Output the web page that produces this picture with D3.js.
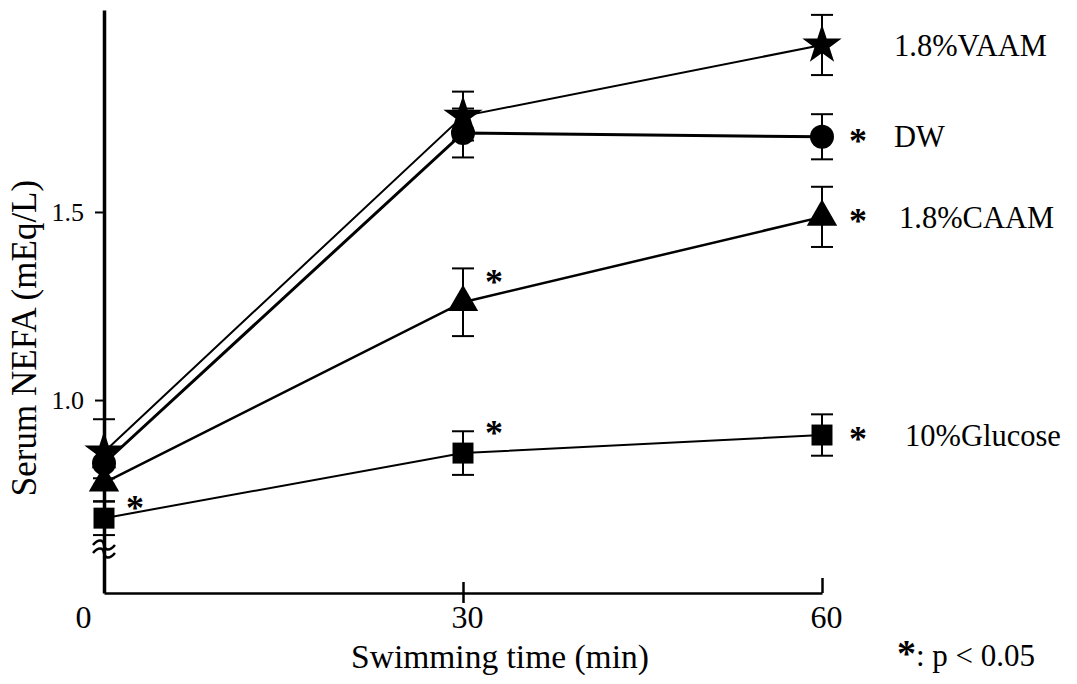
<!DOCTYPE html>
<html>
<head>
<meta charset="utf-8">
<script src="https://cdn.jsdelivr.net/npm/d3@7"></script>
<style>
  body { margin: 0; background: #fff; }
  svg { display: block; }
  svg text { font-family: "Liberation Serif", "Times New Roman", "DejaVu Serif", serif; fill: #000; }
  .axis path, .axis line { stroke: #000; }
</style>
</head>
<body>
<div id="chart"></div>
<script>
// data (serum NEFA, mEq/L)
const times = [0, 30, 60]
const seriesNames = ["1.8%VAAM", "DW", "1.8%CAAM", "10%Glucose"]
const vaamMean = [0.862, 1.755, 1.944]
const vaamErr = [0.087, 0.065, 0.08]
const dwMean = [0.832, 1.71, 1.70]
const dwErr = [0.04, 0.065, 0.06]
const caamMean = [0.78, 1.26, 1.487]
const caamErr = [0.05, 0.09, 0.08]
const glucoseMean = [0.686, 0.859, 0.907]
const glucoseErr = [0.045, 0.058, 0.055]
const vaamSig = [false, false, false]
const dwSig = [false, false, true]
const caamSig = [false, true, true]
const glucoseSig = [true, true, true]
const xTicks = [0, 30, 60]
const yTicks = [1.0, 1.5]

var width = 1077, height = 684
var margin = {left: 104, right: 255, top: 10, bottom: 91}
var serif = '"Liberation Serif", "Times New Roman", serif'

var series = [
    {name: seriesNames[0], mean: vaamMean, err: vaamErr, sig: vaamSig, symbol: d3.symbolStar, size: 480, lw: 2},
    {name: seriesNames[1], mean: dwMean, err: dwErr, sig: dwSig, symbol: d3.symbolCircle, size: 452, lw: 3},
    {name: seriesNames[2], mean: caamMean, err: caamErr, sig: caamSig, symbol: d3.symbolTriangle, size: 400, lw: 2.5},
    {name: seriesNames[3], mean: glucoseMean, err: glucoseErr, sig: glucoseSig, symbol: d3.symbolSquare, size: 440, lw: 2}
]

var xScale = d3.scaleLinear()
    .domain([0, 60])
    .range([margin.left, width - margin.right])

// broken axis: bottom of the plot sits at ~0.487
var yScale = d3.scaleLinear()
    .domain([0.487, 2.037])
    .range([height - margin.bottom, margin.top])

var svg = d3.select("#chart")
    .append("svg")
    .attr("width", width)
    .attr("height", height)
    .attr("font-family", serif)

var x0 = xScale(0), yBase = height - margin.bottom

// x axis
var gx = svg.append("g")
    .attr("class", "axis")
    .attr("transform", "translate(0," + yBase + ")")
    .call(d3.axisBottom(xScale).tickValues(xTicks).tickSize(10).tickSizeOuter(0))
    .attr("font-family", serif)
gx.select(".domain").attr("stroke-width", 2.5)
gx.selectAll(".tick line").attr("y1", -11).attr("y2", 10).attr("stroke-width", 2.5)
gx.selectAll(".tick").filter(d => d === 0).select("line").remove()
gx.selectAll(".tick").filter(d => d === 60).select("line").attr("y1", -15).attr("y2", 0)
gx.selectAll(".tick text")
    .attr("font-size", 32)
    .attr("y", 12)
    .attr("dx", d => d === 0 ? -21 : 4)

// y axis
var gy = svg.append("g")
    .attr("class", "axis")
    .attr("transform", "translate(" + x0 + ",0)")
    .call(d3.axisLeft(yScale).tickValues(yTicks).tickSize(9).tickPadding(11).tickSizeOuter(0)
        .tickFormat(d3.format(".1f")))
    .attr("font-family", serif)
gy.select(".domain").attr("stroke-width", 3.5)
gy.selectAll(".tick line").attr("stroke-width", 2)
gy.selectAll(".tick text").attr("font-size", 26)

// axis break mark
var wave = "M-11,0 C-6,-6 -1,-6 0,0 C1,6 6,6 11,0"
svg.append("g")
    .attr("transform", "translate(" + x0 + "," + (yBase - 44) + ")")
    .selectAll("path")
    .data([-4, 4])
    .enter()
    .append("path")
        .attr("d", wave)
        .attr("transform", d => "translate(0," + d + ")")
        .attr("fill", "none")
        .attr("stroke", "#000")
        .attr("stroke-width", 2.5)

// axis titles
svg.append("text")
    .attr("transform", "translate(" + 500 + "," + 668 + ")")
    .style("text-anchor", "middle")
    .attr("font-size", 33.5)
    .text("Swimming time (min)")
svg.append("text")
    .attr("transform", "translate(" + 36 + "," + 338 + ")rotate(-90)")
    .style("text-anchor", "middle")
    .attr("font-size", 35)
    .text("Serum NEFA (mEq/L)")

var line = d3.line()
    .x((d, i) => xScale(times[i]))
    .y(d => yScale(d))

series.forEach(function(s) {
    var g = svg.append("g")

    g.append("path")
        .datum(s.mean)
        .attr("d", line)
        .attr("fill", "none")
        .attr("stroke", "#000")
        .attr("stroke-width", s.lw)

    var eb = g.selectAll(".eb")
        .data(s.mean.map((m, i) => ({t: times[i], m: m, e: s.err[i]})))
        .enter()
        .append("g")
    eb.append("line")
        .attr("x1", d => xScale(d.t)).attr("x2", d => xScale(d.t))
        .attr("y1", d => yScale(d.m + d.e)).attr("y2", d => yScale(d.m - d.e))
        .attr("stroke", "#000").attr("stroke-width", 2)
    eb.selectAll(".cap")
        .data(d => [{t: d.t, v: d.m + d.e}, {t: d.t, v: d.m - d.e}])
        .enter()
        .append("line")
            .attr("x1", d => xScale(d.t) - 11).attr("x2", d => xScale(d.t) + 11)
            .attr("y1", d => yScale(d.v)).attr("y2", d => yScale(d.v))
            .attr("stroke", "#000").attr("stroke-width", 2)

    g.selectAll(".mark")
        .data(s.mean)
        .enter()
        .append("path")
            .attr("d", d3.symbol().type(s.symbol).size(s.size))
            .attr("transform", (d, i) => "translate(" + xScale(times[i]) + "," + yScale(d) + ")")
            .attr("fill", "#000")

    // significance asterisks
    g.selectAll(".sig")
        .data(s.mean.map((m, i) => ({i: i, m: m})).filter(d => s.sig[d.i]))
        .enter()
        .append("text")
            .attr("x", d => d.i === 2 ? xScale(times[d.i]) + 36 : xScale(times[d.i]) + 31)
            .attr("y", d => yScale(d.m) + (d.i === 2 ? -4 : (d.i === 1 ? -28 : -18)) + 20)
            .attr("text-anchor", "middle")
            .attr("font-size", 36)
            .attr("font-weight", "bold")
            .text("*")

    // series label
    g.append("text")
        .attr("x", xScale(60) + (s.name === "10%Glucose" ? 83 : (s.name === "1.8%CAAM" ? 77 : 72)))
        .attr("y", yScale(s.mean[2]))
        .attr("dy", "0.35em")
        .attr("font-size", 30.5)
        .text(s.name)
})

var note = svg.append("text")
    .attr("x", 897)
    .attr("y", 666)
    .attr("font-size", 31)
note.append("tspan").attr("font-weight", "bold").attr("font-size", 38).text("*")
note.append("tspan").text(": p < 0.05")
</script>
</body>
</html>
